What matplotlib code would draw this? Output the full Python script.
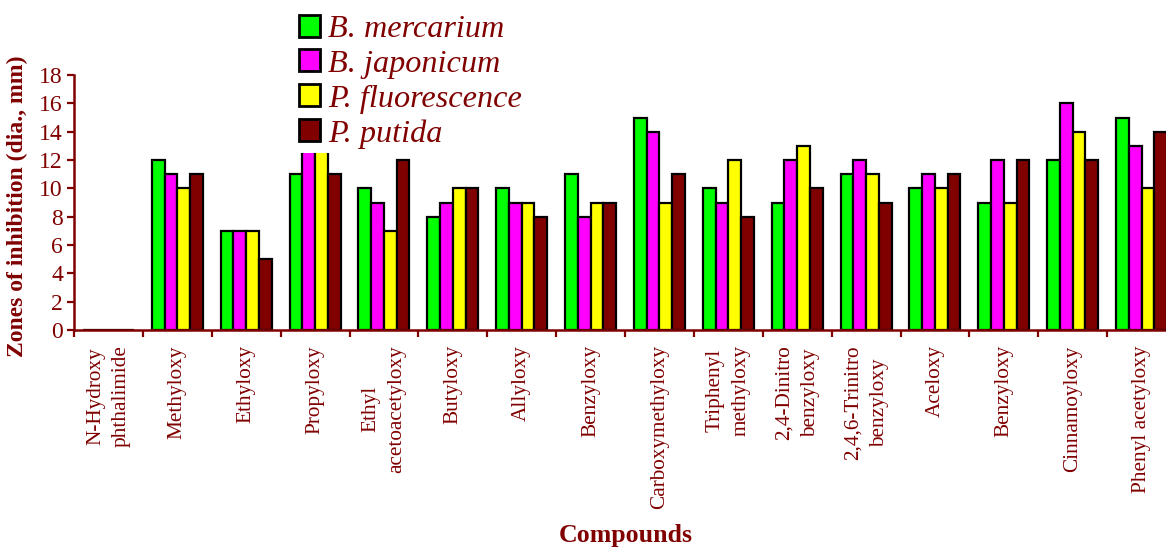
import numpy as np
import matplotlib
matplotlib.use("Agg")
import matplotlib.pyplot as plt

# --- data ---
compounds = [
    "N-Hydroxy\nphthalimide", "Methyloxy", "Ethyloxy", "Propyloxy",
    "Ethyl\nacetoacetyloxy", "Butyloxy", "Allyloxy", "Benzyloxy",
    "Carboxymethyloxy", "Triphenyl\nmethyloxy", "2,4-Dinitro\nbenzyloxy",
    "2,4,6-Trinitro\nbenzyloxy", "Aceloxy", "Benzyloxy", "Cinnamoyloxy",
    "Phenyl acetyloxy",
]
b_mercarium = [0, 12, 7, 11, 10, 8, 10, 11, 15, 10, 9, 11, 10, 9, 12, 15]
b_japonicum = [0, 11, 7, 15, 9, 9, 9, 8, 14, 9, 12, 12, 11, 12, 16, 13]
p_fluorescence = [0, 10, 7, 14, 7, 10, 9, 9, 9, 12, 13, 11, 10, 9, 14, 10]
p_putida = [0, 11, 5, 11, 12, 10, 8, 9, 11, 8, 10, 9, 11, 12, 12, 14]

series = [
    ("B. mercarium", b_mercarium, "#00ff00"),
    ("B. japonicum", b_japonicum, "#ff00ff"),
    ("P. fluorescence", p_fluorescence, "#ffff00"),
    ("P. putida", p_putida, "#800000"),
]

dark_red = "#800000"
plt.rcParams["font.family"] = ["Liberation Serif", "DejaVu Serif"]

fig = plt.figure(figsize=(11.66, 5.48), dpi=100)
W, H = 1166, 548
# axes placed in pixel terms (right edge runs slightly past the image)
ax = fig.add_axes([74 / W, (H - 330) / H, (1176 - 74) / W, (330 - 75) / H])

x = np.arange(len(compounds))
bw = 0.185
for i, (name, vals, col) in enumerate(series):
    ax.bar(x + (i - 1.5) * bw, vals, bw, color=col, edgecolor="black",
           linewidth=1.6, label=name, zorder=2)

ax.set_xlim(-0.5, len(compounds) - 0.5)
ax.set_ylim(0, 18)
ax.set_yticks(range(0, 19, 2))

for side in ["top", "right"]:
    ax.spines[side].set_visible(False)
for side in ["left", "bottom"]:
    ax.spines[side].set_color(dark_red)
    ax.spines[side].set_linewidth(1.8)
    ax.spines[side].set_zorder(3)

ax.tick_params(axis="y", colors=dark_red, labelsize=17, length=5, width=1.6,
               direction="out", pad=3)
ax.set_xticks(x)
ax.set_xticklabels(compounds, rotation=90, ha="center", va="top",
                   multialignment="center", fontsize=15.3, color=dark_red,
                   linespacing=1.5)
ax.tick_params(axis="x", which="major", length=0, pad=11)
ax.set_xticks(np.arange(-0.5, len(compounds), 1), minor=True)
ax.tick_params(axis="x", which="minor", length=5, width=1.6, color=dark_red,
               direction="out")

fig.text(17 / W, 1 - 206 / H, "Zones of inhibition (dia., mm)", rotation=90,
         ha="center", va="center", fontsize=17, fontweight="bold",
         color=dark_red)
fig.text(626 / W, 1 - 542 / H, "Compounds", ha="center", va="baseline",
         fontsize=18.6, fontweight="bold", color=dark_red)

leg = fig.legend(loc="upper left", bbox_to_anchor=(294 / W, 1 - 10 / H),
                 frameon=True, facecolor="white", edgecolor="none",
                 framealpha=1, fancybox=False, handlelength=0.68,
                 handleheight=0.68, handletextpad=0.25, labelspacing=0.17,
                 borderpad=0.14, borderaxespad=0,
                 prop={"family": ["Liberation Serif"], "style": "italic",
                       "size": 23.2})
for t in leg.get_texts():
    t.set_color(dark_red)
for p in leg.get_patches():
    p.set_linewidth(2)

fig.savefig("out.png", dpi=100)
